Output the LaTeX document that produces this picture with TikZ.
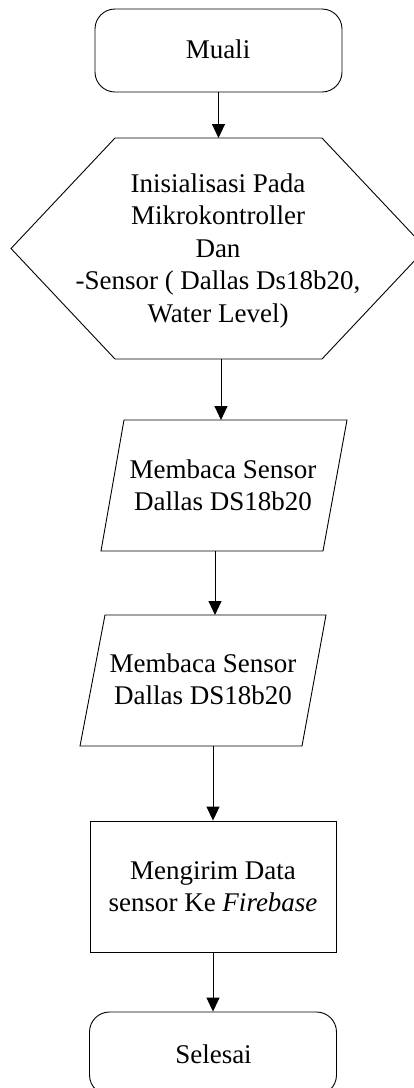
\documentclass[tikz,border=0pt]{standalone}
\usepackage{fontspec}
\setmainfont{Liberation Serif}
\usetikzlibrary{arrows.meta}
\begin{document}
\begin{tikzpicture}[x=1pt,y=-1pt,
  line width=0.9pt,
  term/.style={draw, rounded corners=20pt, minimum width=247pt, minimum height=83pt, inner sep=0pt},
  procbox/.style={draw, minimum width=246pt, minimum height=131pt, inner sep=0pt},
  txt/.style={font=\fontsize{27}{32.5}\selectfont, align=center, inner sep=0pt, anchor=north},
  flow/.style={draw, -{Triangle[length=14pt,width=13pt]}}
]
\path[use as bounding box, clip] (0,0) rectangle (414,1088);

% start
\node[term] (start) at (218.5,50.5) {};
\node[txt, anchor=base] (startT) at (218,58) {Muali};

% hexagon (preparation)
\coordinate (h1) at (115,138);
\coordinate (h2) at (322,138);
\coordinate (h3) at (426,248.5);
\coordinate (h4) at (322,359);
\coordinate (h5) at (115,359);
\coordinate (h6) at (11,248.5);
\draw (h1) -- (h2) -- (h3) -- (h4) -- (h5) -- (h6) -- cycle;
\node[txt] (hexT) at (218,172) {\rule{0pt}{20pt}Inisialisasi Pada\\Mikrokontroller\\Dan\\-Sensor ( Dallas Ds18b20,\\Water Level)};

% parallelogram 1
\coordinate (p1a) at (124,420);
\coordinate (p1b) at (347,420);
\coordinate (p1c) at (323,551);
\coordinate (p1d) at (101,551);
\draw (p1a) -- (p1b) -- (p1c) -- (p1d) -- cycle;
\node[txt] (p1T) at (223,458) {\rule{0pt}{20pt}Membaca Sensor\\Dallas DS18b20};

% parallelogram 2
\coordinate (p2a) at (105,615);
\coordinate (p2b) at (326,615);
\coordinate (p2c) at (302,746);
\coordinate (p2d) at (80,746);
\draw (p2a) -- (p2b) -- (p2c) -- (p2d) -- cycle;
\node[txt] (p2T) at (203,652) {\rule{0pt}{20pt}Membaca Sensor\\Dallas DS18b20};

% process
\node[procbox] (send) at (213,886.5) {};
\node[txt] (sendT) at (213,859) {\rule{0pt}{20pt}Mengirim Data\\sensor Ke \textit{Firebase}};

% end
\node[term] (stop) at (213,1053.5) {};
\node[txt, anchor=base] (stopT) at (213.5,1063) {Selesai};

% connection points
\coordinate (hexTop) at (218.5,138);
\coordinate (hexBot) at (221,359);
\coordinate (p1Top) at (221,420);
\coordinate (p1Bot) at (215,551);
\coordinate (p2Top) at (215,615);
\coordinate (p2Bot) at (213,746);

% connectors
\draw[flow] (start.south) -- (hexTop);
\draw[flow] (hexBot) -- (p1Top);
\draw[flow] (p1Bot) -- (p2Top);
\draw[flow] (p2Bot) -- (send.north);
\draw[flow] (send.south) -- (stop.north);
\end{tikzpicture}
\end{document}
